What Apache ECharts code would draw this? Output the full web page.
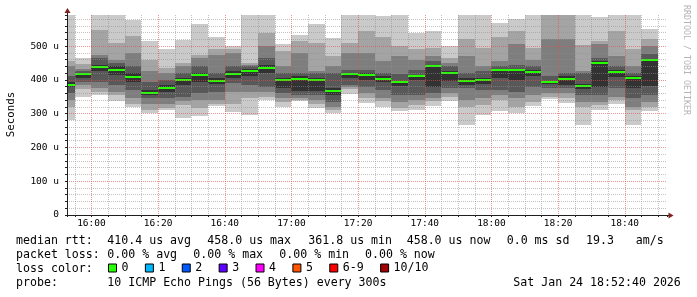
<!DOCTYPE html>
<html><head><meta charset="utf-8">
<script src="https://cdn.jsdelivr.net/npm/echarts@6/dist/echarts.min.js"></script>
<style>html,body{margin:0;padding:0;background:#fff}#c{width:697px;height:297px}</style>
</head><body><div id="c"></div>
<script>
// ---- data ----
const startTime = '15:52:40';
const endTime = '18:52:40';
const colEnd = ['15:55','16:00','16:05','16:10','16:15','16:20','16:25','16:30','16:35','16:40','16:45','16:50','16:55',
  '17:00','17:05','17:10','17:15','17:20','17:25','17:30','17:35','17:40','17:45','17:50','17:55',
  '18:00','18:05','18:10','18:15','18:20','18:25','18:30','18:35','18:40','18:45','18:50'];
// sorted ping round-trip times per 5-minute step (microseconds), ping1 = fastest ... ping10 = slowest
const ping1 = [282,349,355,338,320,302,312,288,292,322,305,297,340,320,336,316,303,358,332,320,308,312,322,338,265,297,308,302,322,344,332,265,312,330,267,308];
const ping2 = [320,372,365,355,328,310,318,325,318,330,330,345,350,335,340,330,310,372,345,338,318,325,338,350,320,325,340,320,335,350,345,320,325,340,310,320];
const ping3 = [340,385,375,365,345,330,330,338,340,340,365,365,365,345,345,340,320,378,360,345,335,340,345,360,340,345,355,345,355,360,360,335,335,350,320,335];
const ping4 = [360,395,395,385,370,345,345,350,360,365,390,385,380,360,355,355,335,385,380,370,355,355,360,375,375,370,370,365,380,375,375,355,355,375,345,355];
const ping5 = [378,407,425,415,395,355,365,385,395,388,405,410,420,377,366,366,355,405,400,395,382,400,378,397,385,388,405,400,410,388,385,372,378,408,375,382];
const ping6 = [395,421,445,440,420,370,385,405,420,405,425,432,445,405,410,405,375,420,420,410,398,415,445,425,405,405,432,432,428,398,410,388,455,428,410,462];
const ping7 = [410,425,465,450,440,395,400,420,440,420,440,440,465,420,420,420,420,430,430,420,418,430,455,440,420,425,440,445,440,410,420,420,465,440,420,478];
const ping8 = [440,433,475,460,480,425,420,440,465,475,480,445,500,440,480,425,440,480,480,455,470,460,470,450,470,440,455,505,460,520,522,425,505,470,440,500];
const ping9 = [456,446,548,510,530,460,435,450,475,490,490,450,538,485,514,510,470,510,544,527,500,490,495,465,520,493,528,546,495,600,600,504,514,546,492,520];
const ping10 = [595,464,595,595,576,514,492,517,566,528,501,595,595,505,534,566,525,595,595,588,595,540,545,500,595,595,568,580,595,600,600,595,586,595,595,551];
const median = [386,418,437,428,409,362,376,400,415,398,418,427,436,401,402,399,368,416,413,404,394,410,441,420,397,399,428,428,422,393,404,382,451,423,405,458];
const yMax = 592;
const yTicks = [0, 100, 200, 300, 400, 500];
const lossNames = ['0','1','2','3','4','5','6-9','10/10'];
const lossColors = ['#26ff00','#00b8ff','#0059ff','#5e00ff','#ff00ff','#ff5500','#ff0000','#a10000'];
const statLine1 = [['median rtt:',16],['410.4 us avg',107.3],['458.0 us max',207.3],['361.8 us min',308.3],['458.0 us now',406.7],['0.0 ms sd',506.7],['19.3',586],['am/s',635.7]];
const statLine2 = [['packet loss:',16],['0.00 % avg',107.3],['0.00 % max',193.3],['0.00 % min',279.3],['0.00 % now',365]];
const statLine3 = [['loss color:',16]];
const statLine4 = [['probe:',16],['10 ICMP Echo Pings (56 Bytes) every 300s',107.3],['Sat Jan 24 18:52:40 2026',513.3]];

// ---- build ----
const MONO = '"DejaVu Sans Mono", "Liberation Mono", monospace';
const toMin = s => { const p = s.split(':').map(Number); return p[0]*60 + p[1] + (p[2]||0)/60; };
const fmt = m => { const h = Math.floor(m/60), mm = Math.round(m - h*60); return h + ':' + String(mm).padStart(2,'0'); };
const pings = [ping1,ping2,ping3,ping4,ping5,ping6,ping7,ping8,ping9,ping10];
const bandLevel = [1,2,3,4,5,4,3,2,1];
const grays = ['', '#cacaca', '#a4a4a4', '#7e7e7e', '#585858', '#323232'];
const smokeData = [], medData = [];
colEnd.forEach((e, k) => {
  const x0 = k === 0 ? toMin(startTime) : toMin(colEnd[k-1]);
  const x1 = toMin(e);
  for (let i = 0; i < 9; i++) smokeData.push([x0, x1, pings[i][k], pings[i+1][k], bandLevel[i]]);
  medData.push([x0, x1, median[k]]);
});

const chart = echarts.init(document.getElementById('c'), null, {renderer: 'canvas'});
const majorGrid = {color: 'rgba(222,79,79,0.6)', type: [1,1], width: 1};
const minorGrid = {color: 'rgba(143,143,143,0.55)', type: [1,1], width: 1};
const axisCol = '#1f1f1f';

function clipRect(a, b, cs) {
  let x0 = Math.round(Math.min(a[0], b[0])), x1 = Math.round(Math.max(a[0], b[0]));
  let y0 = Math.round(Math.min(a[1], b[1])), y1 = Math.round(Math.max(a[1], b[1]));
  x0 = Math.max(x0, cs.x); x1 = Math.min(x1, cs.x + cs.width);
  y0 = Math.max(y0, cs.y); y1 = Math.min(y1, cs.y + cs.height);
  if (x1 <= x0 || y1 <= y0) return null;
  return {x: x0, y: y0, width: x1 - x0, height: y1 - y0};
}

const textEls = [];
[[statLine1,241],[statLine2,255],[statLine3,269],[statLine4,283]].forEach(([line, y]) => {
  line.forEach(([t, x]) => textEls.push({type: 'text', x: x, y: y, silent: true,
    style: {text: t, fontFamily: MONO, fontSize: 11.6, fill: '#000', align: 'left', verticalAlign: 'middle'}}));
});
textEls.push({type: 'text', x: 11, y: 114.5, rotation: Math.PI/2, silent: true,
  style: {text: 'Seconds', fontFamily: MONO, fontSize: 10.8, fill: '#000', align: 'center', verticalAlign: 'middle'}});
textEls.push({type: 'text', x: 686, y: 5, rotation: -Math.PI/2, silent: true,
  style: {text: 'RRDTOOL / TOBI OETIKER', fontFamily: MONO, fontSize: 8.3, fill: '#b4b4b4', align: 'left', verticalAlign: 'middle'}});

const option = {
  animation: false,
  backgroundColor: '#ffffff',
  grid: {left: 67, top: 15, width: 600, height: 200, containLabel: false},
  legend: {
    data: lossNames, left: 108, top: 262, padding: 0, itemWidth: 8, itemHeight: 8, itemGap: 16.4,
    icon: 'rect', selectedMode: false,
    itemStyle: {borderColor: '#000', borderWidth: 1},
    textStyle: {fontFamily: MONO, fontSize: 11.6, color: '#000'}
  },
  xAxis: {
    type: 'value', min: toMin(startTime), max: toMin(endTime), splitNumber: 9, minInterval: 20, maxInterval: 20,
    z: 5,
    axisLine: {show: true, lineStyle: {color: axisCol, width: 1}},
    axisTick: {show: true, length: 2, lineStyle: {color: axisCol}},
    minorTick: {show: true, splitNumber: 4, length: 2, lineStyle: {color: axisCol}},
    splitLine: {show: true, showMinLine: false, showMaxLine: false, lineStyle: majorGrid},
    minorSplitLine: {show: true, lineStyle: minorGrid},
    axisLabel: {formatter: v => fmt(v), showMinLabel: false, showMaxLabel: false, margin: 4,
      fontFamily: MONO, fontSize: 9.5, color: '#000'}
  },
  yAxis: {
    type: 'value', min: 0, max: yMax, interval: 100, z: 5,
    axisLine: {show: true, lineStyle: {color: axisCol, width: 1}},
    axisTick: {show: true, length: 2, lineStyle: {color: axisCol}},
    minorTick: {show: true, splitNumber: 5, length: 2, lineStyle: {color: axisCol}},
    splitLine: {show: true, showMinLine: false, showMaxLine: false, lineStyle: majorGrid},
    minorSplitLine: {show: true, lineStyle: minorGrid},
    axisLabel: {formatter: v => yTicks.includes(v) ? (v === 0 ? '0' : v + ' u') : '', showMaxLabel: false, margin: 8,
      fontFamily: MONO, fontSize: 9.5, color: '#000'}
  },
  series: [
    {
      type: 'custom', name: 'smoke', z: 2, silent: true, clip: true,
      encode: {x: [0, 1], y: [2, 3]},
      data: smokeData,
      renderItem: (params, api) => {
        const cs = params.coordSys;
        const a = api.coord([api.value(0), api.value(3)]);
        const b = api.coord([api.value(1), api.value(2)]);
        const r = clipRect(a, b, cs);
        if (!r) return null;
        return {type: 'rect', shape: r, style: {fill: grays[api.value(4)]}};
      }
    },
    {
      type: 'custom', name: 'median', z: 3, silent: true, clip: true,
      encode: {x: [0, 1], y: 2},
      data: medData,
      renderItem: (params, api) => {
        const cs = params.coordSys;
        const a = api.coord([api.value(0), api.value(2)]);
        const b = api.coord([api.value(1), api.value(2)]);
        const y = Math.round(a[1]);
        const r = clipRect([a[0], y - 1], [b[0], y + 1], cs);
        if (!r) return null;
        return {type: 'rect', shape: r, style: {fill: lossColors[0]}};
      }
    }
  ].concat(lossNames.map((n, i) => ({type: 'bar', name: n, data: [], itemStyle: {color: lossColors[i]}}))),
  graphic: textEls
};
chart.setOption(option);

// axis arrows (decoration), positioned from the axes' own scale
const o = chart.convertToPixel({gridIndex: 0}, [toMin(startTime), 0]);
const e = chart.convertToPixel({gridIndex: 0}, [toMin(endTime), yMax]);
const arrowCol = '#801f1f';
chart.setOption({graphic: textEls.concat([
  {type: 'line', silent: true, shape: {x1: o[0] + 0.5, y1: e[1], x2: o[0] + 0.5, y2: e[1] - 3}, style: {stroke: axisCol, lineWidth: 1}},
  {type: 'line', silent: true, shape: {x1: e[0], y1: o[1] + 0.5, x2: e[0] + 2, y2: o[1] + 0.5}, style: {stroke: axisCol, lineWidth: 1}},
  {type: 'polygon', silent: true, shape: {points: [[o[0] + 0.5, e[1] - 7], [o[0] - 2.5, e[1] - 2], [o[0] + 3.5, e[1] - 2]]}, style: {fill: arrowCol}},
  {type: 'polygon', silent: true, shape: {points: [[e[0] + 6.5, o[1] + 0.5], [e[0] + 1.5, o[1] - 2.5], [e[0] + 1.5, o[1] + 3.5]]}, style: {fill: arrowCol}}
])});
</script></body></html>
